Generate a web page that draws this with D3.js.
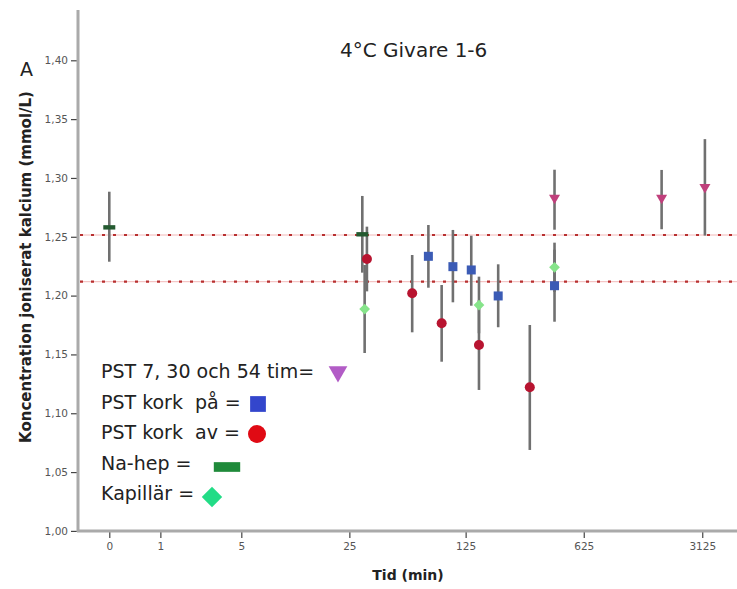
<!DOCTYPE html>
<html><head><meta charset="utf-8">
<script src="https://cdn.jsdelivr.net/npm/d3@7"></script>
<style>body{margin:0;background:#fff}svg{display:block}</style>
</head><body><svg id="c" width="737" height="589"></svg>
<script>
// ---- data ----
const xTicks = [0, 1, 5, 25, 125, 625, 3125];
const yTicks = [1.00, 1.05, 1.10, 1.15, 1.20, 1.25, 1.30, 1.35, 1.40];
const refLines = [1.2515, 1.2118];

// PST 7, 30 och 54 tim
const pstTimT   = [420, 1800, 3240];
const pstTimV   = [1.282, 1.282, 1.291];
const pstTimLo  = [1.256, 1.2564, 1.251];
const pstTimHi  = [1.307, 1.3068, 1.333];
// PST kork på
const korkPaT   = [75, 105, 135, 195, 420];
const korkPaV   = [1.2334, 1.2246, 1.2218, 1.1997, 1.2084];
const korkPaLo  = [1.2067, 1.1943, 1.1914, 1.1731, 1.1778];
const korkPaHi  = [1.260, 1.2558, 1.2509, 1.2266, 1.239];
// PST kork av
const korkAvT   = [32, 60, 90, 150, 300];
const korkAvV   = [1.2311, 1.2020, 1.1765, 1.158, 1.1221];
const korkAvLo  = [1.2036, 1.1688, 1.1438, 1.1198, 1.0688];
const korkAvHi  = [1.2586, 1.2345, 1.209, 1.196, 1.175];
// Na-hep
const naHepT    = [0, 30];
const naHepV    = [1.258, 1.2521];
const naHepLo   = [1.2288, 1.2195];
const naHepHi   = [1.2883, 1.2847];
// Kapillär
const kapT      = [31, 150, 420];
const kapV      = [1.1886, 1.192, 1.224];
const kapLo     = [1.1512, 1.168, 1.203];
const kapHi     = [1.226, 1.2161, 1.245];

const legendLabels = ["PST 7, 30 och 54 tim=", "PST kork  på =", "PST kork  av =", "Na-hep =", "Kapillär ="];

// ---- scales ----
const svg = d3.select("#c");
const x = d3.scaleLog().base(5).domain([0.654, 5010]).range([78, 737]);
const X = t => x(t + 1);
const y = d3.scaleLinear().domain([1, 1.4]).range([530.9, 60.3]);

// reference lines
refLines.forEach(v => {
  svg.append("line").attr("x1", 80).attr("x2", 737).attr("y1", y(v)).attr("y2", y(v))
    .attr("stroke", "#f2b8b8").attr("stroke-width", 1);
  svg.append("line").attr("x1", 80).attr("x2", 737).attr("y1", y(v)).attr("y2", y(v))
    .attr("stroke", "#b83030").attr("stroke-width", 2.2).attr("stroke-dasharray", "3,8");
});

// axes
const yAxis = d3.axisLeft(y).tickValues(yTicks).tickSize(6).tickPadding(3)
  .tickFormat(d => d3.format(".2f")(d).replace(".", ","));
const gy = svg.append("g").attr("transform", "translate(77,0)").call(yAxis);
gy.select(".domain").remove();
gy.selectAll(".tick line").attr("stroke", "#444").attr("stroke-width", 1.2);
gy.selectAll(".tick text").attr("font-family", "DejaVu Sans").attr("font-size", 10.5).attr("fill", "#555");

const xAxis = d3.axisBottom(x).tickValues(xTicks.map(t => t + 1)).tickSize(7).tickPadding(5)
  .tickFormat(d => String(Math.round(d - 1)));
const gx = svg.append("g").attr("transform", "translate(0,531)").call(xAxis);
gx.select(".domain").remove();
gx.selectAll(".tick line").attr("stroke", "#444").attr("stroke-width", 1.2);
gx.selectAll(".tick text").attr("font-family", "DejaVu Sans").attr("font-size", 10.5).attr("fill", "#555");

svg.append("line").attr("x1", 78).attr("x2", 78).attr("y1", 10).attr("y2", 532)
  .attr("stroke", "#aaa").attr("stroke-width", 3);
svg.append("line").attr("x1", 77).attr("x2", 737).attr("y1", 531).attr("y2", 531)
  .attr("stroke", "#aaa").attr("stroke-width", 3);

// axis titles
svg.append("text").attr("transform", "translate(31,267) rotate(-90)").attr("text-anchor", "middle")
  .attr("font-family", "DejaVu Sans").attr("font-weight", "bold").attr("font-size", 15).attr("fill", "#222")
  .text("Koncentration joniserat kalcium (mmol/L)");
svg.append("text").attr("x", 408).attr("y", 580).attr("text-anchor", "middle")
  .attr("font-family", "DejaVu Sans").attr("font-weight", "bold").attr("font-size", 14).attr("fill", "#222")
  .text("Tid (min)");
svg.append("text").attr("x", 340).attr("y", 57)
  .attr("font-family", "DejaVu Sans").attr("font-size", 20).attr("fill", "#222").text("4°C Givare 1-6");
svg.append("text").attr("x", 20).attr("y", 76)
  .attr("font-family", "DejaVu Sans").attr("font-size", 19).attr("fill", "#222").text("A");

// series
const series = [
  {T: naHepT, V: naHepV, Lo: naHepLo, Hi: naHepHi, kind: "bar", color: "#245a30"},
  {T: kapT, V: kapV, Lo: kapLo, Hi: kapHi, kind: "diamond", color: "#86e48a"},
  {T: korkAvT, V: korkAvV, Lo: korkAvLo, Hi: korkAvHi, kind: "circle", color: "#b81430"},
  {T: korkPaT, V: korkPaV, Lo: korkPaLo, Hi: korkPaHi, kind: "square", color: "#3b5bb5"},
  {T: pstTimT, V: pstTimV, Lo: pstTimLo, Hi: pstTimHi, kind: "tri", color: "#c0407c"}
];
// error bars first
const eg = svg.append("g");
series.forEach(s => s.T.forEach((t, i) => {
  eg.append("line").attr("x1", X(t)).attr("x2", X(t)).attr("y1", y(s.Lo[i])).attr("y2", y(s.Hi[i]))
    .attr("stroke", "#707070").attr("stroke-width", 2.6);
}));
function marker(g, kind, cx, cy, color, sc) {
  sc = sc || 1;
  if (kind === "bar") g.append("rect").attr("x", cx - 6 * sc).attr("y", cy - 2.2 * sc).attr("width", 12 * sc).attr("height", 4.4 * sc).attr("fill", color);
  else if (kind === "circle") g.append("circle").attr("cx", cx).attr("cy", cy).attr("r", 5 * sc).attr("fill", color);
  else if (kind === "square") g.append("rect").attr("x", cx - 4.5 * sc).attr("y", cy - 4.5 * sc).attr("width", 9 * sc).attr("height", 9 * sc).attr("fill", color);
  else if (kind === "diamond") g.append("rect").attr("x", -3.8 * sc).attr("y", -3.8 * sc).attr("width", 7.6 * sc).attr("height", 7.6 * sc)
    .attr("transform", `translate(${cx},${cy}) rotate(45)`).attr("fill", color);
  else if (kind === "tri") g.append("path").attr("d", `M${cx - 5.5 * sc},${cy - 4.5 * sc}L${cx + 5.5 * sc},${cy - 4.5 * sc}L${cx},${cy + 5 * sc}Z`).attr("fill", color);
}
const mg = svg.append("g");
series.forEach(s => s.T.forEach((t, i) => marker(mg, s.kind, X(t), y(s.V[i]), s.color)));

// legend
const lg = svg.append("g");
const legMarks = [
  {kind: "tri", color: "#b25cc6", mx: 338, my: 374, sc: 1.7},
  {kind: "square", color: "#3346cc", mx: 258, my: 404, sc: 1.75},
  {kind: "circle", color: "#e00a14", mx: 257, my: 434, sc: 1.8},
  {kind: "bar", color: "#1f8a3a", mx: 227, my: 467, sc: 2.2},
  {kind: "diamond", color: "#22dc86", mx: 212, my: 497, sc: 1.9}
];
legendLabels.forEach((lab, i) => {
  lg.append("text").attr("x", 101).attr("y", 378 + i * 30.6)
    .attr("font-family", "DejaVu Sans").attr("font-size", 19).attr("fill", "#222")
    .attr("xml:space", "preserve").style("white-space", "pre").text(lab);
  const m = legMarks[i];
  marker(lg, m.kind, m.mx, m.my, m.color, m.sc);
});
</script></body></html>
